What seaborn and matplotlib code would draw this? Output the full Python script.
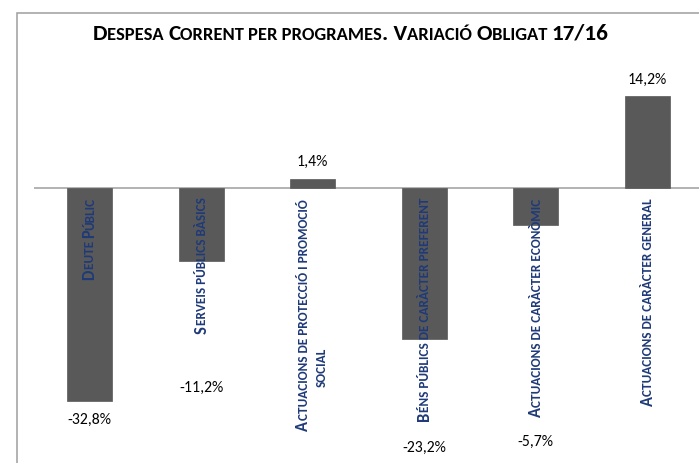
import matplotlib
matplotlib.use("Agg")
import matplotlib.pyplot as plt
import seaborn as sns
from matplotlib.patches import Rectangle
from matplotlib.transforms import IdentityTransform
from matplotlib.font_manager import FontProperties, findfont, get_font


categories = [
    "Deute Públic",
    "Serveis públics bàsics",
    "Actuacions de protecció i promoció\nsocial",
    "Béns públics de caràcter preferent",
    "Actuacions de caràcter econòmic",
    "Actuacions de caràcter general",
]
values = [-32.8, -11.2, 1.4, -23.2, -5.7, 14.2]
value_labels = ["-32,8%", "-11,2%", "1,4%", "-23,2%", "-5,7%", "14,2%"]
title = "Despesa Corrent per programes. Variació Obligat 17/16"

# where Excel left the data labels (in % units)
label_y = [-35.7, -30.8, 4.0, -40.0, -39.1, 16.6]

BAR = "#595959"
NAVY = "#1F3A78"
LINE = "#A6A6A6"
FONT = "Carlito"   # Calibri metrics


def glyph_font(fs, weight, dpi):
    font = get_font(findfont(FontProperties(family=FONT, weight=weight)))
    font.set_size(fs, dpi)
    return font


def small_caps(fig, x, y, text, size, rotation=0, align="center", ratio=0.8,
               weight="bold", **kw):
    # fake Excel small caps: lowercase -> uppercase at a smaller size
    # (x, y) are display pixels on the baseline
    runs = []
    for ch in text:
        fs = size * ratio if ch.islower() else size
        if ch == " " and runs:
            fs = runs[-1][1]
        if runs and runs[-1][1] == fs:
            runs[-1] = (runs[-1][0] + ch.upper(), fs)
        else:
            runs.append((ch.upper(), fs))

    steps, lsbs = [], []
    for s, fs in runs:
        font = glyph_font(fs, weight, fig.dpi)
        steps.append(sum(font.load_char(ord(c)).linearHoriAdvance / 65536 for c in s))
        lsbs.append(font.load_char(ord(s[0])).horiBearingX / 64)
    total = sum(steps)
    dx, dy = (0, 1) if rotation == 90 else (1, 0)
    k = {"left": 0, "center": 0.5, "right": 1}[align]
    px0, py0 = x - k * total * dx, y - k * total * dy
    for (s, fs), step, lsb in zip(runs, steps, lsbs):
        if s.strip():
            tx, ty = px0, py0
            if rotation == 90:
                # agg puts the ink (not the pen) at the anchor for rotated text
                tx, ty = px0 - lsb, py0 + lsb
            fig.text(tx, ty, s, fontsize=fs, rotation=rotation,
                     rotation_mode="anchor", ha="left", va="baseline",
                     fontweight=weight, family=FONT,
                     transform=IdentityTransform(), **kw)
        px0 += step * dx
        py0 += step * dy


sns.set_style("white")
plt.rcParams["font.family"] = [FONT, "DejaVu Sans"]

fig = plt.figure(figsize=(6.99, 4.63), dpi=100)
ax = fig.add_axes([34 / 699, 0, 669 / 699, 393 / 463])

sns.barplot(x=categories, y=values, color=BAR, saturation=1, width=0.4,
            edgecolor=BAR, linewidth=0.5, ax=ax)
ax.set_xlim(-0.5, 5.5)
ax.set_ylim(-42.3, 18.15)
ax.axhline(0, color=LINE, lw=1.2, zorder=0)
ax.set_xticks([])
ax.set_yticks([])
ax.set_xlabel("")
ax.set_ylabel("")
sns.despine(ax=ax, left=True, bottom=True)

for i, (lab, yv) in enumerate(zip(value_labels, label_y)):
    ax.text(i, yv, lab, ha="center", va="center", fontsize=11.3, color="black")

# outer chart frame
fig.patches.append(Rectangle((16.5 / 699, -0.05), 2, 1.036 - 6.5 / 463,
                             transform=fig.transFigure, fill=False,
                             edgecolor=LINE, lw=1.2))

fig.canvas.draw()
lab_size = 11.9
cap = 0.644 * lab_size * fig.dpi / 72
for i, cat in enumerate(categories):
    xc, y0 = ax.transData.transform((i, 0))
    lines = cat.split("\n")
    if len(lines) == 1:
        small_caps(fig, xc + cap / 2, y0 - 10, cat, lab_size, rotation=90,
                   align="right", color=NAVY)
    else:
        small_caps(fig, xc - 10 + cap / 2, y0 - 11, lines[0], lab_size,
                   rotation=90, align="right", color=NAVY)
        small_caps(fig, xc + 8 + cap / 2, y0 - 180, lines[1], lab_size,
                   rotation=90, align="center", color=NAVY)

small_caps(fig, 350.5, 463 - 39.5, title, 16.7, rotation=0, align="center",
           color="black")

fig.savefig("out.png", dpi=100)
